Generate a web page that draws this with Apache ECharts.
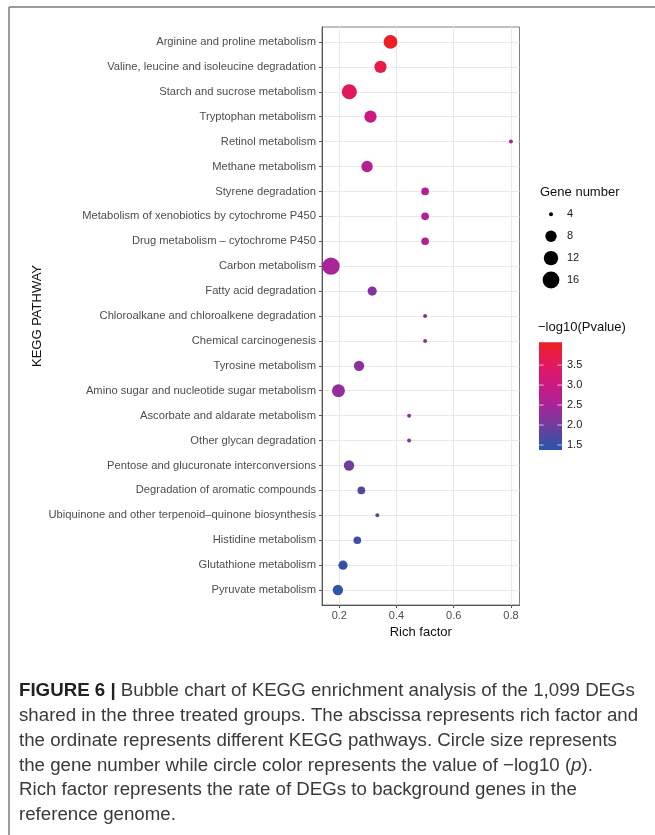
<!DOCTYPE html>
<html><head><meta charset="utf-8">
<script src="https://cdn.jsdelivr.net/npm/echarts@6/dist/echarts.min.js"></script>
<style>html,body{margin:0;padding:0;background:#fff;}#c{width:655px;height:835px;}</style>
</head><body><div id="c"></div>
<script>
// ---------------- data ----------------
const pathways = [
  'Arginine and proline metabolism',
  'Valine, leucine and isoleucine degradation',
  'Starch and sucrose metabolism',
  'Tryptophan metabolism',
  'Retinol metabolism',
  'Methane metabolism',
  'Styrene degradation',
  'Metabolism of xenobiotics by cytochrome P450',
  'Drug metabolism – cytochrome P450',
  'Carbon metabolism',
  'Fatty acid degradation',
  'Chloroalkane and chloroalkene degradation',
  'Chemical carcinogenesis',
  'Tyrosine metabolism',
  'Amino sugar and nucleotide sugar metabolism',
  'Ascorbate and aldarate metabolism',
  'Other glycan degradation',
  'Pentose and glucuronate interconversions',
  'Degradation of aromatic compounds',
  'Ubiquinone and other terpenoid–quinone biosynthesis',
  'Histidine metabolism',
  'Glutathione metabolism',
  'Pyruvate metabolism'
];
const richFactor = [0.379,0.344,0.235,0.309,0.800,0.297,0.500,0.500,0.500,0.171,0.315,0.500,0.500,0.269,0.197,0.444,0.444,0.234,0.277,0.333,0.263,0.213,0.195];
const geneNumber = [11,9,13,9,4,8,5,5,5,17,6,4,4,7,10,4,4,7,5,4,5,6,7];
const negLog10P = [4.07,3.72,3.5,3.0,2.65,2.7,2.65,2.65,2.65,2.5,2.15,2.25,2.25,2.25,2.3,2.15,2.15,2.0,1.8,1.85,1.6,1.5,1.375];
const xTickValues = [0.2,0.4,0.6,0.8];
const sizeBreaks = [4,8,12,16];
const colorBreaks = [1.5,2.0,2.5,3.0,3.5];
const captionLines = [
  '{b|FIGURE 6 | }Bubble chart of KEGG enrichment analysis of the 1,099 DEGs',
  'shared in the three treated groups. The abscissa represents rich factor and',
  'the ordinate represents different KEGG pathways. Circle size represents',
  'the gene number while circle color represents the value of \u2212log10 ({i|p}).',
  'Rich factor represents the rate of DEGs to background genes in the',
  'reference genome.'
];

// ---------------- styles / helpers ----------------
const FONT = '"Liberation Sans", Arial, Helvetica, sans-serif';
const colorStops = [
  [0.000,'#2E55A6'],[0.046,'#3551A5'],[0.232,'#723C9E'],[0.417,'#A82498'],
  [0.603,'#CC1883'],[0.789,'#E2185F'],[1.000,'#EE1F26']
];
function hex2rgb(h){return [1,3,5].map(i=>parseInt(h.substr(i,2),16));}
function colorAt(t){
  for(let i=1;i<colorStops.length;i++){
    if(t<=colorStops[i][0]){
      const [t0,c0]=colorStops[i-1],[t1,c1]=colorStops[i];
      const f=(t-t0)/(t1-t0), a=hex2rgb(c0), b=hex2rgb(c1);
      return 'rgb('+a.map((v,k)=>Math.round(v+(b[k]-v)*f)).join(',')+')';
    }
  }
  return colorStops[colorStops.length-1][1];
}
const palette = Array.from({length:41},(_,i)=>colorAt(i/40));

const gMin = Math.min(...geneNumber), gMax = Math.max(...geneNumber);
function sizeOf(g){ return 4 + 13.3*Math.sqrt(Math.max(0,(g-gMin))/(gMax-gMin)); }
const pMin = Math.min(...negLog10P), pMax = Math.max(...negLog10P);

// plot geometry
const G = {left:322, right:135.5, top:27, bottom:230};

// ---------------- chart ----------------
const chart = echarts.init(document.getElementById('c'), null, {renderer:'canvas'});

const seriesData = pathways.map((p,i)=>[richFactor[i], i, geneNumber[i], negLog10P[i], p]);

const graphics = [];
// outer frame
graphics.push({type:'line', shape:{x1:9,y1:7,x2:655,y2:7}, style:{stroke:'#7a7a7a',lineWidth:1.5}, silent:true});
graphics.push({type:'line', shape:{x1:9,y1:7,x2:9,y2:835}, style:{stroke:'#7a7a7a',lineWidth:1.5}, silent:true});

// size legend
graphics.push({type:'text', style:{x:540, y:192, text:'Gene number', font:'13px '+FONT, fill:'#111', verticalAlign:'middle'}});
const sizeY0 = 214.3, sizeStep = 21.9;
sizeBreaks.forEach((g,i)=>{
  const cy = sizeY0 + i*sizeStep;
  graphics.push({type:'circle', shape:{cx:551, cy:cy, r:sizeOf(g)/2}, style:{fill:'#000'}});
  graphics.push({type:'text', style:{x:567, y:cy, text:String(g), font:'11px '+FONT, fill:'#1a1a1a', verticalAlign:'middle'}});
});

// colour legend
graphics.push({type:'text', style:{x:538, y:327, text:'\u2212log10(Pvalue)', font:'13px '+FONT, fill:'#111', verticalAlign:'middle'}});
const bar = {x:539, y:342.3, w:23, h:107.7};
graphics.push({type:'rect', shape:{x:bar.x, y:bar.y, width:bar.w, height:bar.h},
  style:{fill:new echarts.graphic.LinearGradient(0,1,0,0, colorStops.map(s=>({offset:s[0], color:s[1]})))}});
colorBreaks.forEach(v=>{
  const y = bar.y + bar.h - (v-pMin)/(pMax-pMin)*bar.h;
  graphics.push({type:'line', shape:{x1:bar.x, y1:y, x2:bar.x+4.6, y2:y}, style:{stroke:'rgba(255,255,255,0.7)', lineWidth:1}});
  graphics.push({type:'line', shape:{x1:bar.x+bar.w-4.6, y1:y, x2:bar.x+bar.w, y2:y}, style:{stroke:'rgba(255,255,255,0.7)', lineWidth:1}});
  graphics.push({type:'text', style:{x:567, y:y, text:v.toFixed(1), font:'11px '+FONT, fill:'#1a1a1a', verticalAlign:'middle'}});
});

// caption (font size fitted to the first line width)
const ctx = document.createElement('canvas').getContext('2d');
ctx.font = 'bold 100px '+FONT; const wB = ctx.measureText('FIGURE 6 | ').width;
ctx.font = '100px '+FONT; const wR = ctx.measureText('Bubble chart of KEGG enrichment analysis of the 1,099 DEGs').width;
const capSize = Math.round(100*622/(wB+wR)*0.99*10)/10;
const capY0 = 691, capStep = 24.8;
captionLines.forEach((t,i)=>{
  graphics.push({type:'text', style:{x:19, y:capY0+i*capStep, text:t, font:capSize+'px '+FONT, fill:'#3a3a3a',
    verticalAlign:'middle',
    rich:{ b:{fontWeight:'bold', fontSize:capSize, fontFamily:FONT, fill:'#222', color:'#222'},
           i:{fontStyle:'italic', fontSize:capSize, fontFamily:FONT, fill:'#3a3a3a', color:'#3a3a3a'} } }});
});

const yIdx = pathways.map((_,i)=>i);
const option = {
  backgroundColor:'#fff',
  animation:false,
  textStyle:{fontFamily:FONT},
  grid:{left:G.left, right:G.right, top:G.top, bottom:G.bottom, show:true, borderColor:'#808080', borderWidth:1, backgroundColor:'#fff'},
  xAxis:{
    type:'value', min:0.1395, max:0.83, splitNumber:7,
    name:'Rich factor', nameLocation:'middle', nameGap:21,
    nameTextStyle:{fontSize:13, color:'#111', fontFamily:FONT},
    axisLine:{show:true, onZero:false, lineStyle:{color:'#555', width:1}},
    axisTick:{show:true, length:3, lineStyle:{color:'#555'}, customValues:xTickValues},
    axisLabel:{fontSize:11, color:'#4D4D4D', margin:5, customValues:xTickValues,
      formatter:v=>{ const ok = xTickValues.some(t=>Math.abs(t-v)<1e-6); return ok ? String(+v.toFixed(1)) : ''; }},
    splitLine:{show:true, lineStyle:{color:'#E9E9E9', width:1}}
  },
  yAxis:{
    type:'value', min:-0.6, max:22.6, splitNumber:23, inverse:true,
    name:'KEGG PATHWAY', nameLocation:'middle', nameRotate:90, nameGap:278,
    nameTextStyle:{fontSize:13, color:'#111', fontFamily:FONT},
    axisLine:{show:true, onZero:false, lineStyle:{color:'#555', width:1}},
    axisTick:{show:true, length:3, lineStyle:{color:'#555'}, customValues:yIdx},
    axisLabel:{fontSize:11.2, color:'#4D4D4D', margin:6, customValues:yIdx,
      formatter:v=>{ const i=Math.round(v); return Math.abs(i-v)<1e-6 && pathways[i] ? pathways[i] : ''; }},
    splitLine:{show:true, lineStyle:{color:'#E9E9E9', width:1}}
  },
  visualMap:{show:false, type:'continuous', dimension:3, min:pMin, max:pMax, seriesIndex:0, inRange:{color:palette}},
  series:[{
    type:'scatter',
    data:seriesData,
    symbol:'circle',
    symbolSize:val=>sizeOf(val[2]),
    itemStyle:{opacity:1},
    z:5
  }],
  graphic:graphics
};
chart.setOption(option);
</script>
</body></html>
